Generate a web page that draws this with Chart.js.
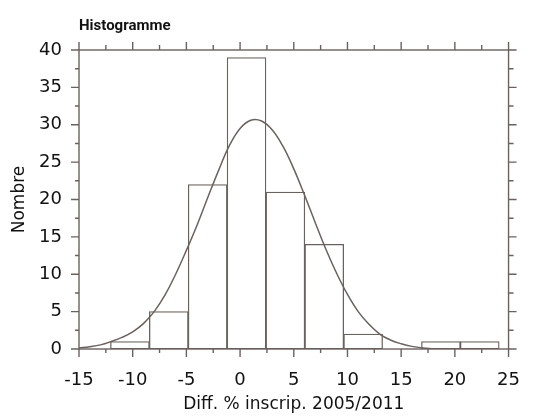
<!DOCTYPE html>
<html>
<head>
<meta charset="utf-8">
<title>Histogramme</title>
<script src="https://cdn.jsdelivr.net/npm/chart.js@4.4.1/dist/chart.umd.min.js"></script>
<style>
  html, body { margin: 0; padding: 0; background: #fff; }
  #wrap { width: 541px; height: 419px; }
</style>
</head>
<body>
<div id="wrap"><canvas id="mycanvas" width="541" height="419"></canvas></div>
<script>
// histogram bins (edges) and counts
var binEdges = [-12.07, -8.45, -4.83, -1.21, 2.41, 6.03, 9.65, 13.27, 16.89, 20.51, 24.13];
var counts = [1, 5, 22, 39, 21, 14, 2, 0, 1, 1];

// fitted curve, read at whole units
var curveX = [-15, -14, -13, -12, -11, -10, -9, -8, -7, -6, -5, -4, -3, -2, -1, 0, 1, 2,
              3, 4, 5, 6, 7, 8, 9, 10, 11, 12, 13, 14, 15, 16, 17, 18];
var curveY = [0.15, 0.3, 0.55, 1.0, 1.55, 2.3, 3.4, 5.0, 7.2, 10.0, 13.2, 16.6, 20.3, 23.9, 27.2, 29.5, 30.6, 30.5,
              29.3, 27.1, 24.1, 20.6, 16.9, 13.3, 10.1, 7.3, 5.0, 3.3, 2.0, 1.2, 0.7, 0.35, 0.15, 0.05];

var xTicks = [-15, -10, -5, 0, 5, 10, 15, 20, 25];
var yTicks = [0, 5, 10, 15, 20, 25, 30, 35, 40];

var lineColor = '#6a625f';
var textColor = '#121212';
var fontFamily = "'DejaVu Sans', sans-serif";

var bars = [];
for (var i = 0; i < counts.length; i++) {
	bars.push({ x: (binEdges[i] + binEdges[i + 1]) / 2, y: counts[i] });
}
var curve = [];
for (var j = 0; j < curveX.length; j++) {
	curve.push({ x: curveX[j], y: curveY[j] });
}

// box round the plot, with major ticks outside and short minor ticks between
var frameTicks = {
	id: 'frameTicks',
	afterDatasetsDraw: function(chart) {
		var ctx = chart.ctx, a = chart.chartArea;
		var xs = chart.scales.x, ys = chart.scales.y;
		ctx.save();
		ctx.strokeStyle = lineColor;
		ctx.lineWidth = 1.4;
		ctx.strokeRect(a.left, a.top, a.right - a.left, a.bottom - a.top);
		ctx.beginPath();
		xTicks.forEach(function(v, k) {
			var px = xs.getPixelForValue(v);
			ctx.moveTo(px, a.bottom); ctx.lineTo(px, a.bottom + 8);
			ctx.moveTo(px, a.top); ctx.lineTo(px, a.top - 8);
			if (k < xTicks.length - 1) {
				var mx = xs.getPixelForValue((v + xTicks[k + 1]) / 2);
				ctx.moveTo(mx, a.bottom); ctx.lineTo(mx, a.bottom + 4);
				ctx.moveTo(mx, a.top); ctx.lineTo(mx, a.top - 5);
			}
		});
		yTicks.forEach(function(v, k) {
			var py = ys.getPixelForValue(v);
			ctx.moveTo(a.left, py); ctx.lineTo(a.left - 8, py);
			ctx.moveTo(a.right, py); ctx.lineTo(a.right + 8, py);
			if (k < yTicks.length - 1) {
				var my = ys.getPixelForValue((v + yTicks[k + 1]) / 2);
				ctx.moveTo(a.left, my); ctx.lineTo(a.left - 4, my);
				ctx.moveTo(a.right, my); ctx.lineTo(a.right + 5, my);
			}
		});
		ctx.stroke();
		ctx.restore();
	}
};

var ctx = document.getElementById('mycanvas');

var histo = new Chart(ctx, {
	type: 'bar',
	data: {
		datasets: [
			{
				type: 'line',
				data: curve,
				borderColor: lineColor,
				borderWidth: 1.5,
				pointRadius: 0,
				fill: false,
				tension: 0.4,
				order: 0
			},
			{
				type: 'bar',
				data: bars,
				backgroundColor: '#ffffff',
				borderColor: lineColor,
				borderWidth: 1.3,
				borderSkipped: false,
				barPercentage: 1,
				categoryPercentage: 1,
				order: 1
			}
		]
	},
	options: {
		responsive: false,
		animation: false,
		events: [],
		layout: { padding: { right: 13, top: 0, bottom: 0, left: 0 } },
		plugins: {
			legend: { display: false },
			tooltip: { enabled: false },
			title: {
				display: true,
				text: 'Histogramme',
				align: 'start',
				fullSize: false,
				color: textColor,
				font: { family: "Roboto, 'Liberation Sans', sans-serif", size: 15, weight: 'bold' },
				padding: { top: 17, bottom: 15 }
			}
		},
		scales: {
			x: {
				type: 'linear',
				min: -15,
				max: 25,
				offset: false,
				grid: { display: false, drawTicks: false },
				border: { display: false },
				afterBuildTicks: function(s) { s.ticks = xTicks.map(function(v) { return { value: v }; }); },
				afterFit: function(s) { s.height = 70; },
				ticks: { color: textColor, padding: 21, maxRotation: 0, font: { family: fontFamily, size: 18 } },
				title: {
					display: true,
					text: 'Diff. % inscrip. 2005/2011',
					color: textColor,
					font: { family: fontFamily, size: 17 },
					padding: { top: 0, bottom: 4 }
				}
			},
			y: {
				min: 0,
				max: 40,
				grid: { display: false, drawTicks: false },
				border: { display: false },
				afterBuildTicks: function(s) { s.ticks = yTicks.map(function(v) { return { value: v }; }); },
				afterFit: function(s) { s.width = 79; },
				ticks: { color: textColor, padding: 17, font: { family: fontFamily, size: 18 } },
				title: {
					display: true,
					text: 'Nombre',
					color: textColor,
					font: { family: fontFamily, size: 17 },
					padding: { top: 9, bottom: 0 }
				}
			}
		}
	},
	plugins: [frameTicks]
});
</script>
</body>
</html>
